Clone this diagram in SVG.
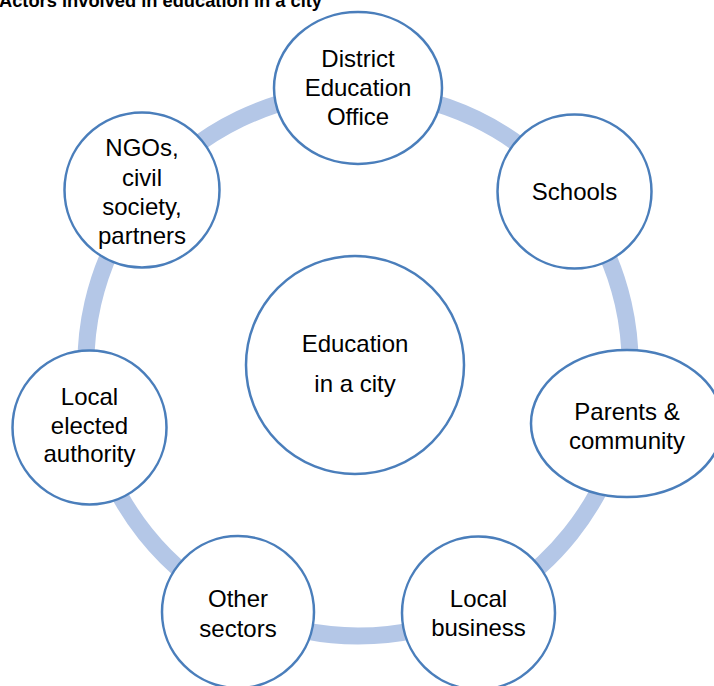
<svg xmlns="http://www.w3.org/2000/svg" width="714" height="686" viewBox="0 0 714 686">
<style>
.node { fill: #FFFFFF; stroke: #4A7EBB; stroke-width: 2.5; }
.ring { fill: none; stroke: #B4C7E7; stroke-width: 17; }
.lbl { font-family: "Liberation Sans", Arial, sans-serif; font-size: 24px; fill: #000000; text-anchor: middle; }
.title { font-family: "Liberation Sans", Arial, sans-serif; font-size: 18.5px; font-weight: bold; fill: #000000; }
</style>
<rect x="0" y="0" width="714" height="686" fill="#FFFFFF"/>
<text class="title" x="-1" y="7" textLength="323" lengthAdjust="spacingAndGlyphs">Actors involved in education in a city</text>
<g id="connectors">
  <path class="ring" d="M358,92 A272,272 0 0 1 570.66,194.41"/>
  <path class="ring" d="M570.66,194.41 A272,272 0 0 1 623.18,424.53"/>
  <path class="ring" d="M623.18,424.53 A272,272 0 0 1 476.01,609.06"/>
  <path class="ring" d="M476.01,609.06 A272,272 0 0 1 239.99,609.06"/>
  <path class="ring" d="M239.99,609.06 A272,272 0 0 1 92.82,424.53"/>
  <path class="ring" d="M92.82,424.53 A272,272 0 0 1 145.34,194.41"/>
  <path class="ring" d="M145.34,194.41 A272,272 0 0 1 358,92"/>
</g>
<g id="center">
  <circle class="node" cx="355" cy="365" r="109"/>
  <text class="lbl" x="355" y="352">Education</text>
  <text class="lbl" x="355" y="392">in a city</text>
</g>
<g id="district">
  <ellipse class="node" cx="358" cy="88" rx="84" ry="76"/>
  <text class="lbl" x="358" y="67">District</text>
  <text class="lbl" x="358" y="96">Education</text>
  <text class="lbl" x="358" y="125">Office</text>
</g>
<g id="schools">
  <circle class="node" cx="574.5" cy="191.5" r="77"/>
  <text class="lbl" x="574.5" y="200">Schools</text>
</g>
<g id="parents">
  <ellipse class="node" cx="627" cy="423.5" rx="96" ry="73.5"/>
  <text class="lbl" x="627" y="420">Parents &amp;</text>
  <text class="lbl" x="627" y="448.5">community</text>
</g>
<g id="business">
  <circle class="node" cx="478.5" cy="613" r="76.5"/>
  <text class="lbl" x="478.5" y="607">Local</text>
  <text class="lbl" x="478.5" y="636">business</text>
</g>
<g id="other">
  <circle class="node" cx="238" cy="612" r="76"/>
  <text class="lbl" x="238" y="607">Other</text>
  <text class="lbl" x="238" y="636.5">sectors</text>
</g>
<g id="elected">
  <circle class="node" cx="89.5" cy="427.5" r="77"/>
  <text class="lbl" x="89.5" y="405">Local</text>
  <text class="lbl" x="89.5" y="433.5">elected</text>
  <text class="lbl" x="89.5" y="462">authority</text>
</g>
<g id="ngos">
  <circle class="node" cx="142" cy="190" r="77.5"/>
  <text class="lbl" x="142" y="156">NGOs,</text>
  <text class="lbl" x="142" y="185.5">civil</text>
  <text class="lbl" x="142" y="215">society,</text>
  <text class="lbl" x="142" y="244">partners</text>
</g>
</svg>
